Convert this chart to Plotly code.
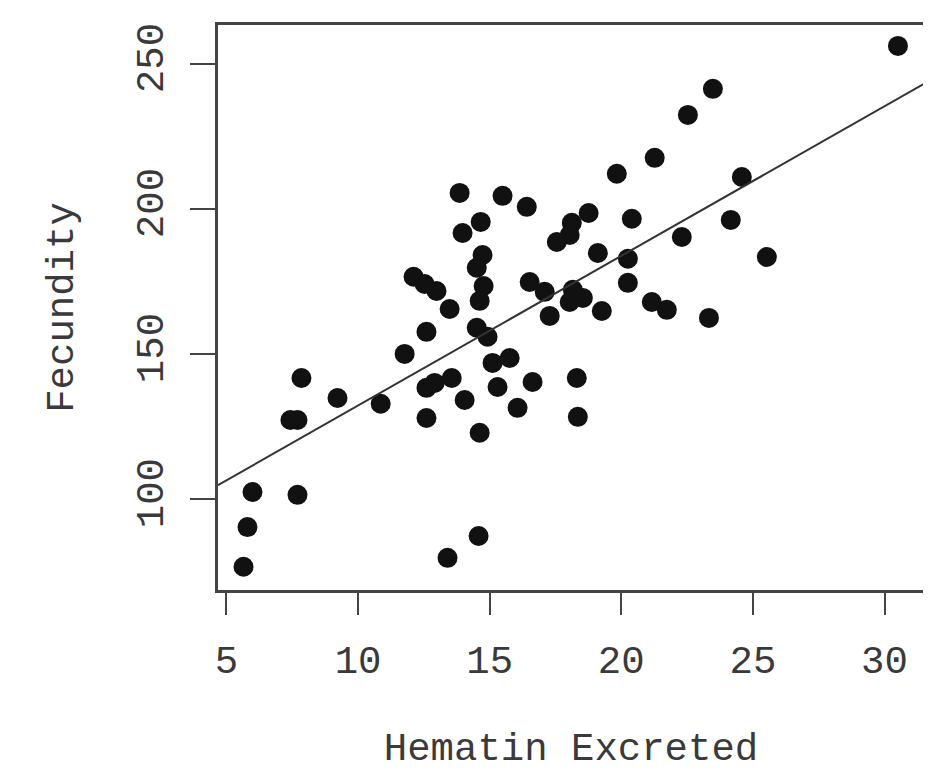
import plotly.graph_objects as go

hematin = [30.51, 23.48, 22.53, 21.27, 19.83, 24.58, 13.86, 15.49, 16.41, 18.76,
           14.66, 18.12, 20.40, 24.16, 13.97, 18.04, 17.55, 22.30, 14.73, 19.11,
           20.25, 25.53, 14.51, 12.11, 12.53, 12.98, 14.77, 16.52, 17.09, 20.25,
           18.16, 18.04, 18.54, 14.62, 17.28, 19.26, 21.16, 21.73, 23.33, 13.48,
           14.51, 14.92, 12.60, 11.77, 15.11, 15.76, 13.56, 12.91, 12.60, 15.30,
           16.63, 18.31, 7.85, 9.22, 10.86, 14.05, 16.06, 7.43, 7.70, 12.60,
           18.35, 14.62, 5.99, 7.70, 5.80, 14.58, 5.65, 13.40]
fecundity = [256.2, 241.4, 232.4, 217.6, 212.1, 211.0, 205.5, 204.5, 200.7, 198.6,
             195.5, 195.2, 196.6, 196.2, 191.7, 191.0, 188.6, 190.3, 184.1, 184.8,
             182.8, 183.4, 179.7, 176.6, 174.1, 171.7, 173.4, 174.8, 171.4, 174.5,
             172.1, 167.9, 169.3, 168.3, 163.1, 164.8, 167.9, 165.2, 162.4, 165.5,
             159.0, 155.9, 157.6, 150.0, 146.9, 148.6, 141.7, 140.0, 138.3, 138.6,
             140.3, 141.7, 141.7, 134.8, 132.8, 134.1, 131.4, 127.2, 127.2, 127.9,
             128.3, 122.8, 102.4, 101.4, 90.3, 87.2, 76.6, 79.7]

line_intercept = 80.6
line_slope = 5.16

x_ticks = [5, 10, 15, 20, 25, 30]
y_ticks = [100, 150, 200, 250]
x_range = [4.68, 31.5]
y_range = [68.6, 263.4]

FONT = "Liberation Mono"
TXT = "#3a3a3a"

fig = go.Figure()
fig.add_trace(go.Scatter(
    x=hematin, y=fecundity, mode="markers",
    marker=dict(size=20, color="#111111", line=dict(width=0)),
    showlegend=False, hoverinfo="skip"))
fig.add_trace(go.Scatter(
    x=x_range, y=[line_intercept + line_slope * v for v in x_range],
    mode="lines", line=dict(color="#333333", width=2),
    showlegend=False, hoverinfo="skip"))

fig.update_layout(
    width=931, height=780,
    margin=dict(l=210, r=15, t=17, b=198),
    paper_bgcolor="white", plot_bgcolor="white",
    font=dict(family=FONT, color=TXT, size=39),
    xaxis=dict(
        range=x_range, tickvals=x_ticks, ticktext=[str(v) for v in x_ticks],
        showgrid=False, zeroline=False,
        showline=True, linecolor="#444444", linewidth=3, mirror=True,
        ticks="outside", ticklen=22, tickwidth=2, tickcolor="#444444",
        tickfont=dict(family=FONT, size=39, color=TXT),
        ticklabelstandoff=11,
        title=dict(text="Hematin Excreted", font=dict(family=FONT, size=39, color=TXT), standoff=49),
        automargin=False,
    ),
    yaxis=dict(
        range=y_range, tickvals=y_ticks, ticktext=[str(v) for v in y_ticks],
        showgrid=False, zeroline=False,
        showline=True, linecolor="#444444", linewidth=3, mirror=True,
        ticks="outside", ticklen=25, tickwidth=2, tickcolor="#444444",
        tickangle=-90,
        tickfont=dict(family=FONT, size=39, color=TXT),
        ticklabelstandoff=11,
        title=dict(text="Fecundity", font=dict(family=FONT, size=39, color=TXT), standoff=46),
        automargin=False,
    ),
)

fig.write_html("out.html")
